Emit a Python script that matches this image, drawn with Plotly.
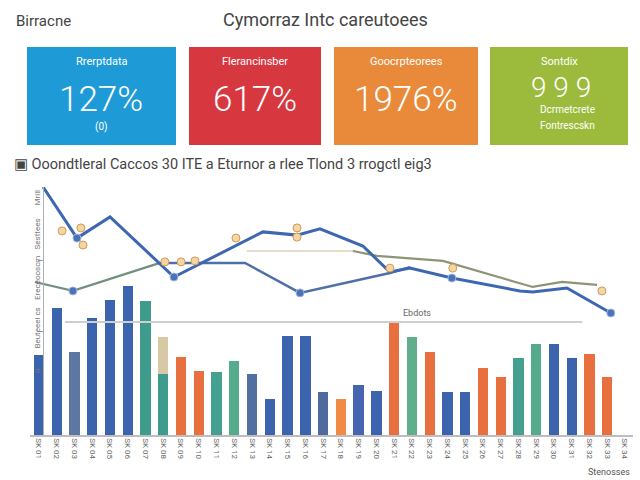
import plotly.graph_objects as go

# ---------------- data ----------------
categories = list(range(34))
x_labels = ["SK 01", "SK 02", "SK 03", "SK 04", "SK 05", "SK 06", "SK 07", "SK 08",
            "SK 09", "SK 10", "SK 11", "SK 12", "SK 13", "SK 14", "SK 15", "SK 16",
            "SK 17", "SK 18", "SK 19", "SK 20", "SK 21", "SK 22", "SK 23", "SK 24",
            "SK 25", "SK 26", "SK 27", "SK 28", "SK 29", "SK 30", "SK 31", "SK 32",
            "SK 33", "SK 34"]
bar_values = [32.3, 51.2, 33.5, 47.2, 54.4, 60.1, 54.0, 24.6, 31.5, 25.8, 25.4, 29.8,
              24.6, 14.5, 39.9, 39.9, 17.3, 14.5, 20.2, 17.7, 45.6, 39.5, 33.5, 17.3,
              17.3, 27.0, 23.4, 31.0, 36.7, 36.7, 31.0, 32.7, 23.4, 0.0]
bar_colors = ["#3c63ad", "#3c63ad", "#5d77a2", "#3c63ad", "#3c63ad", "#3c63ad", "#3f9c8d",
              "#3f9c8d", "#e8703f", "#e8703f", "#45a08f", "#55ab8c", "#52709f", "#3c63ad",
              "#3c63ad", "#3c63ad", "#4f6b9e", "#f08a45", "#4664b0", "#3c63ad", "#e8703f",
              "#5fae8c", "#e8703f", "#3c63ad", "#3c63ad", "#e8703f", "#e8703f", "#45a08f",
              "#55ab8c", "#3c63ad", "#3c63ad", "#e8703f", "#e8703f", "#3c63ad"]
extra_x = [7]
extra_values = [14.9]

line_a_x = [0.23, 2.14, 4.0, 7.6, 12.61, 14.53, 15.82, 18.24, 19.76, 20.89, 23.25, 27.08, 27.8, 29.73, 32.2]
line_a_y = [100, 79.4, 87.9, 63.7, 81.9, 80.6, 83.1, 76.2, 65.7, 67.3, 63.3, 58.1, 57.7, 59.3, 49.2]
line_b_x = [6.81, 11.6, 14.7, 19.76, 20.89]
line_b_y = [69.4, 69.4, 57.3, 65.3, 67.7]
line_c_x = [-0.23, 1.91, 6.81]
line_c_y = [61.7, 58.1, 69.4]
line_d_x = [17.68, 19.03, 22.75, 27.8, 29.45, 31.42]
line_d_y = [74.2, 72.2, 70.2, 59.7, 61.7, 60.5]

dot_x = [1.91, 2.14, 7.6, 14.7, 23.25, 32.2]
dot_y = [58.1, 79.4, 63.7, 57.3, 63.3, 49.2]
tag_x = [1.3, 2.36, 2.48, 7.09, 8.0, 8.78, 11.09, 14.53, 14.53, 19.76, 23.3, 31.7]
tag_y = [82.3, 83.5, 76.6, 69.8, 69.8, 70.2, 79.4, 83.5, 79.8, 67.3, 67.3, 58.1]

ref_upper_x = [11.7, 17.68]
ref_upper_y = [74.2, 74.2]
ref_lower_x = [1.46, 30.6]
ref_lower_y = [45.6, 45.6]

ytick_vals = [95.2, 80.6, 62.9, 42.7, 25.4]
ytick_text = ["Mrill", "Sesttees", "Ereceooscm", "Beuteeei cs", "0"]
ytick_marks = [41.9, 70.2]

card_titles = ["Rrerptdata", "Flerancinsber", "Goocrpteorees", "Sontdix"]
card_values = ["127%", "617%", "1976%", "9 9 9"]
card_colors = ["#1e9bd7", "#d7373f", "#e98a3a", "#9cbb3c"]
card_bounds = [(27, 176), (189, 321), (334, 478), (490, 628)]

FONT = "Roboto, Liberation Sans, sans-serif"

W, H = 640, 480
def px(x):
    return x / W
def py(y):
    return 1 - y / H

fig = go.Figure()

fig.add_trace(go.Bar(x=categories, y=bar_values, marker=dict(color=bar_colors, line=dict(width=0)),
                     width=0.58, showlegend=False, hoverinfo="skip"))
fig.add_trace(go.Bar(x=extra_x, y=extra_values, base=[bar_values[i] for i in extra_x],
                     marker=dict(color="#d8c9a6", line=dict(width=0)), width=0.58,
                     showlegend=False, hoverinfo="skip"))

fig.add_trace(go.Scatter(x=ref_lower_x, y=ref_lower_y, mode="lines",
                         line=dict(color="#cfcfcf", width=2), showlegend=False))
fig.add_trace(go.Scatter(x=ref_upper_x, y=ref_upper_y, mode="lines",
                         line=dict(color="#e2ddcd", width=2), showlegend=False))
fig.add_trace(go.Scatter(x=line_c_x, y=line_c_y, mode="lines",
                         line=dict(color="#72907f", width=2.2), showlegend=False))
fig.add_trace(go.Scatter(x=line_d_x, y=line_d_y, mode="lines",
                         line=dict(color="#8e9577", width=2.2), showlegend=False))
fig.add_trace(go.Scatter(x=line_b_x, y=line_b_y, mode="lines",
                         line=dict(color="#4d70a6", width=2.5), showlegend=False))
fig.add_trace(go.Scatter(x=line_a_x, y=line_a_y, mode="lines",
                         line=dict(color="#3d67b1", width=3), showlegend=False))
fig.add_trace(go.Scatter(x=dot_x, y=dot_y, mode="markers",
                         marker=dict(color="#4a72b8", size=8, line=dict(color="#9fb6dc", width=1)),
                         showlegend=False))
fig.add_trace(go.Scatter(x=tag_x, y=tag_y, mode="markers",
                         marker=dict(color="#f2d6a4", size=8, line=dict(color="#d39a52", width=1)),
                         showlegend=False))

shapes = []
annotations = []


def note(x, y, text, size, color="white", xanchor="center", weight="normal"):
    annotations.append(dict(xref="paper", yref="paper", x=px(x), y=py(y), text=text,
                            xanchor=xanchor, yanchor="middle", showarrow=False,
                            font=dict(family=FONT, size=size, color=color, weight=weight)))


for (x0, x1), col, t in zip(card_bounds, card_colors, card_titles):
    shapes.append(dict(type="rect", xref="paper", yref="paper", x0=px(x0), x1=px(x1),
                       y0=py(145), y1=py(47), fillcolor=col, line=dict(width=0), layer="below"))
    note((x0 + x1) / 2, 61, t, 11)

# card values
note(101, 99, card_values[0], 35, weight=300)
note(101, 127, "(0)", 10)
note(255, 99, card_values[1], 35, weight=300)
note(406, 99, card_values[2], 35, weight=300)
note(561, 87, card_values[3], 28, weight=300)
note(567, 110, "Dcrmetcrete", 10)
note(567, 125, "Fontrescskn", 10)

# titles
note(14, 21, "Birracne", 15, color="#444", xanchor="left")
note(325, 20, "Cymorraz Intc careutoees", 18, color="#444")
note(12, 164, "▣ Ooondtleral Caccos 30 ITE a Eturnor a rlee Tlond 3 rrogctl eig3", 14.5,
     color="#444", xanchor="left")
note(632, 472, "Stenosses", 9, color="#555", xanchor="right")
annotations.append(dict(xref="x", yref="y", x=21.3, y=49.2, text="Ebdots", showarrow=False,
                        font=dict(family=FONT, size=9, color="#666")))

fig.update_layout(
    width=W, height=H, margin=dict(l=0, r=0, t=0, b=0),
    paper_bgcolor="white", plot_bgcolor="white",
    shapes=shapes, annotations=annotations, barmode="overlay", bargap=0,
    xaxis=dict(domain=[px(30), px(633)], range=[-0.507, 33.45], tickmode="array",
               tickvals=categories, ticktext=x_labels, tickangle=90,
               tickfont=dict(family=FONT, size=8, color="#666"),
               showgrid=False, zeroline=False, showline=True, linecolor="#bdbdbd", linewidth=1.5,
               ticks=""),
    yaxis=dict(domain=[py(435), py(187)], range=[0, 100], anchor="free", position=px(43),
               tickmode="array", tickvals=ytick_vals, ticktext=ytick_text, tickangle=-90,
               tickfont=dict(family=FONT, size=8, color="#777"), ticks="",
               minor=dict(tickmode="array", tickvals=ytick_marks, ticks="outside", ticklen=5,
                          tickcolor="#999"),
               showgrid=False, zeroline=False, showline=True, linecolor="#b0b0b0", linewidth=1),
)

fig.write_html("out.html")
